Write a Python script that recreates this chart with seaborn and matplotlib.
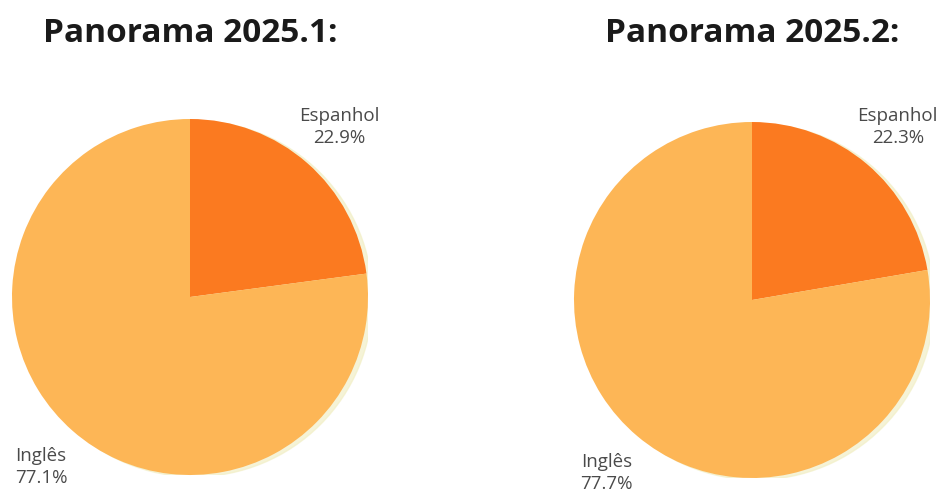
import matplotlib
matplotlib.use("Agg")
import matplotlib.pyplot as plt
import seaborn as sns
from matplotlib.patches import Circle

sns.set_theme(style="white")
plt.rcParams['font.family'] = ['Open Sans', 'DejaVu Sans']

# Dados
titulos = ['Panorama 2025.1:', 'Panorama 2025.2:']
idiomas = ['Espanhol', 'Inglês']
valores_1 = [22.9, 77.1]
valores_2 = [22.3, 77.7]
cores = ['#fb7a20', '#fdb656']

W, H = 942, 499
fig = plt.figure(figsize=(W / 100, H / 100), dpi=100)

# centro (px) e raio de cada pizza
layout = [(190, 297, 178), (752, 300, 178)]

for titulo, valores, (cx, cy, r) in zip(titulos, [valores_1, valores_2], layout):
    ax = fig.add_axes([(cx - r) / W, (H - cy - r) / H, 2 * r / W, 2 * r / H])
    # sombra leve
    ax.add_patch(Circle((0.025, -0.01), 1.0, color='#f2efc6', alpha=0.7, zorder=0))
    labels = [f'{n}\n{v:.1f}%' for n, v in zip(idiomas, valores)]
    wedges, texts = ax.pie(valores, labels=labels, colors=cores, startangle=90,
                           counterclock=False, labeldistance=1.27,
                           wedgeprops={'linewidth': 0},
                           textprops={'fontsize': 13.5, 'color': '#4a4a4a',
                                      'ha': 'center', 'va': 'center',
                                      'linespacing': 1.25})
    for w in wedges:
        w.set_zorder(1)
    ax.set_xlim(-1, 1)
    ax.set_ylim(-1, 1)
    ax.set_aspect('equal')
    ax.axis('off')
    fig.text(cx / W, 1 - 33 / H, titulo, ha='center', va='center',
             fontsize=24, fontweight='bold', color='#1a1a1a')

fig.savefig('out.png', dpi=100)
